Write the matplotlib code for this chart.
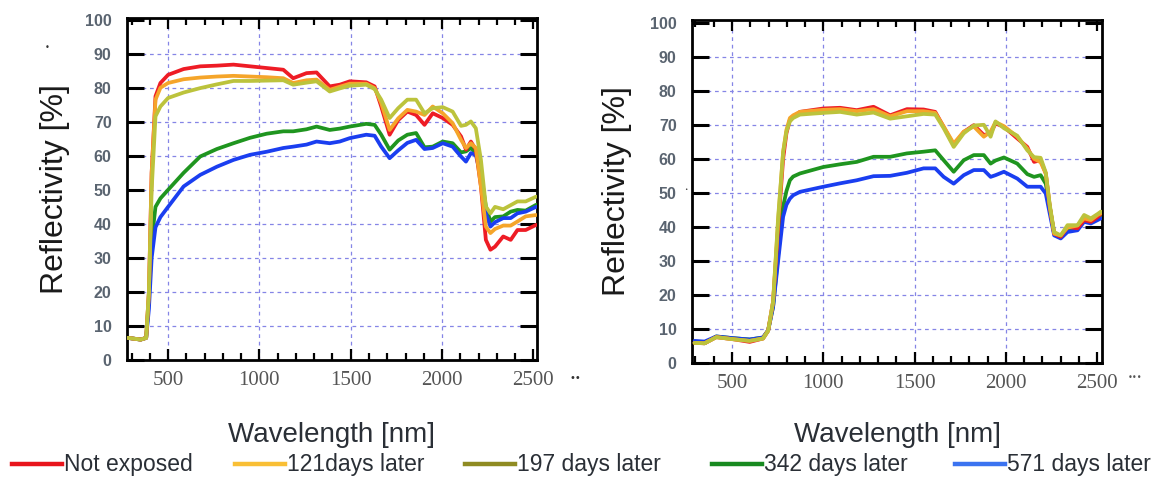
import matplotlib
matplotlib.use("Agg")
import matplotlib.pyplot as plt
from matplotlib.lines import Line2D
from matplotlib.ticker import MultipleLocator

# series names / colours
labels = ["Not exposed", "121days later", "197 days later", "342 days later", "571 days later"]
line_colors = ["#ee1c25", "#f5a52a", "#bcc33c", "#1f951f", "#1a3ef0"]
legend_colors = ["#e8141c", "#f9bf35", "#8f8b22", "#188a20", "#3b73f0"]

# left panel
wl_left = [280, 350, 380, 395, 410, 431, 458, 500, 585, 676, 767, 858, 949, 1040, 1131, 1185,
           1258, 1313, 1385, 1440, 1495, 1585, 1631, 1667, 1713, 1760, 1810, 1858, 1904, 1949,
           2004, 2058, 2104, 2131, 2158, 2185, 2213, 2240, 2265, 2290, 2335, 2376, 2413, 2458, 2515]
left_red = [6.5, 6, 6.5, 20, 55, 77.5, 81.4, 83.8, 85.5, 86.3, 86.5, 86.8, 86.3, 85.8, 85.3, 82.8,
            84.3, 84.5, 80.4, 80.9, 81.9, 81.6, 80.4, 74.5, 66.2, 70.5, 73, 72, 69.1, 72.5,
            71.1, 69.1, 65.7, 61.8, 64.2, 61.8, 51, 35.3, 32.4, 33.3, 36.3, 35.3, 38.2, 38.2, 39.7]
left_121 = [6.5, 6, 6.5, 20, 55, 76.5, 80, 81.4, 82.5, 83, 83.3, 83.5, 83.3, 83.1, 82.8, 81.4,
            82.2, 82.4, 79.4, 80.3, 81.2, 81.2, 79.9, 75.5, 67.6, 71, 73.5, 73, 72, 74.5,
            72.5, 69.6, 64.7, 62.3, 63.7, 62.3, 51, 39.2, 37.3, 38.5, 39.5, 39.5, 40.7, 42.2, 42.6]
left_197 = [6.5, 6, 6.5, 20, 50, 71.6, 74.5, 77, 78.6, 79.9, 81, 82, 82, 82.1, 82.2, 80.9,
            81.5, 81.9, 78.9, 79.8, 80.6, 80.9, 79.6, 76.5, 71.1, 74, 76.5, 76.5, 72.5, 74,
            74.3, 73, 68.8, 69.1, 70.1, 68.1, 58.8, 45.1, 43.1, 45, 44.3, 45.5, 46.6, 46.6, 48]
left_342 = [6.5, 6, 6.5, 18, 35, 45, 47.5, 50, 55, 59.8, 62, 63.7, 65.3, 66.5, 67.2, 67.2,
            67.8, 68.6, 67.6, 68, 68.6, 69.4, 69.1, 66.2, 61.8, 64.5, 66.2, 66.7, 62.5, 62.7,
            64.2, 63.7, 61, 61.3, 62.3, 60.8, 54.9, 45.1, 40.7, 42, 42.2, 43.6, 44.1, 43.9, 45.6]
left_571 = [6.5, 6, 6.5, 15, 30, 39, 42, 45, 51, 54.4, 56.8, 58.8, 60.3, 61.2, 62.3, 62.7,
            63.3, 64.2, 63.7, 64.2, 65.2, 66.2, 65.9, 62.7, 59.3, 61.6, 63.8, 64.7, 62, 62.3,
            63.7, 62.7, 59.8, 58.3, 60.8, 60.3, 53.9, 43.1, 39.2, 40.5, 41.7, 41.7, 43.1, 43.6, 45]

# right panel
wl_right = [295, 350, 414, 505, 597, 670, 698, 725, 753, 780, 798, 817, 835, 872, 1000, 1092,
            1183, 1275, 1366, 1458, 1549, 1613, 1659, 1714, 1769, 1824, 1879, 1916, 1943, 1989,
            2062, 2117, 2154, 2190, 2218, 2240, 2264, 2300, 2337, 2392, 2428, 2465, 2502, 2520]
right_red = [5.9, 5.8, 7.6, 7, 6.2, 7.2, 9.5, 18, 40, 60, 67.5, 71.5, 72.4, 73.8, 74.8, 75,
             74.3, 75.3, 72.8, 74.6, 74.5, 73.8, 69.4, 64, 67.9, 69.9, 67, 67.5, 70.4, 69.4,
             66, 63.5, 59.1, 59.6, 55.7, 46, 38, 37.1, 40, 39.6, 42, 41.5, 42.9, 43.9]
right_121 = [5.9, 5.8, 7.6, 7, 6.5, 7.2, 9.5, 18, 42, 62, 68.5, 72, 72.8, 73.8, 74.4, 74.6,
             74, 74.6, 72.5, 74, 74, 73.5, 69.5, 64.5, 68, 69.5, 66.5, 68, 70.8, 69.6,
             66.5, 63, 60, 59, 55.7, 46, 38, 37.5, 39.8, 40.4, 42.5, 42, 43.5, 44]
right_197 = [5.9, 5.8, 7.6, 7, 6.5, 7.2, 9.5, 18, 43, 62, 68, 71, 72, 73, 73.5, 73.8,
             73, 73.6, 71.8, 72.5, 73.2, 73, 69, 63.5, 67.5, 69.8, 70, 66.5, 71, 69,
             66.8, 62.5, 60.5, 60.3, 56, 46.5, 38.5, 37.5, 40.5, 40.5, 43.5, 42.5, 43.8, 44.5]
right_342 = [6, 5.8, 7.8, 7.3, 6.9, 7.5, 9.6, 16.5, 32, 46, 50.5, 53.7, 54.8, 55.7, 57.6, 58.4,
             59.1, 60.6, 60.6, 61.6, 62.1, 62.5, 59.6, 56.2, 59.6, 61.1, 61.1, 58.6, 59.5, 60.4,
             58.6, 55.5, 54.7, 55.2, 52.7, 45.9, 38, 36.9, 39, 40, 42, 42, 42.5, 42.9]
right_571 = [6.5, 6.3, 7.8, 7.3, 6.9, 7.5, 9.6, 16.5, 30.2, 43, 46.5, 48.3, 49.3, 50.3, 51.8, 52.8,
             53.7, 54.9, 55, 55.9, 57.2, 57.2, 54.7, 52.7, 55.2, 56.7, 56.7, 54.7, 55.2, 56.2,
             54.2, 51.8, 51.8, 51.8, 49.8, 43.9, 37.5, 36.6, 38.5, 39, 41.5, 41, 42, 42.5]

panels = [
    (wl_left, [left_red, left_121, left_197, left_342, left_571]),
    (wl_right, [right_red, right_121, right_197, right_342, right_571]),
]

W, H = 1164, 478
fig = plt.figure(figsize=(W / 100, H / 100), dpi=100)

# axes boxes in pixels: left, top, right, bottom
boxes = [(127, 18, 537, 360), (692, 20, 1102, 363)]
xlims = [(275, 2520), (281, 2526)]
ylims = [(0, 100.5), (0, 100.8)]
ylabel_x = [55, 617]

draw_order = [3, 4, 0, 1, 2]

for k, (wl, series) in enumerate(panels):
    l, t, r, b = boxes[k]
    ax = fig.add_axes([l / W, 1 - b / H, (r - l) / W, (b - t) / H])
    for i in draw_order:
        ax.plot(wl, series[i], color=line_colors[i], lw=2.7, solid_joinstyle="round",
                solid_capstyle="round", zorder=3)
    ax.set_xlim(*xlims[k])
    ax.set_ylim(*ylims[k])
    ax.set_xticks([500, 1000, 1500, 2000, 2500])
    ax.xaxis.set_minor_locator(MultipleLocator(100))
    ax.set_yticks(range(0, 101, 10))
    ax.grid(True, which="major", color="#8585e6", linestyle=(0, (3, 3)), lw=0.9, zorder=1)
    ax.tick_params(axis="x", which="major", direction="in", top=True, length=8, width=1.6,
                   pad=8, labelsize=15, labelcolor="#555555")
    ax.tick_params(axis="x", which="minor", direction="in", top=True, length=5, width=1.6)
    ax.tick_params(axis="y", which="major", direction="in", right=True, length=12, width=2.2,
                   pad=11, labelsize=11.5, labelcolor="#5a6470")
    for lab in ax.get_xticklabels():
        lab.set_fontfamily("Liberation Serif")
    for lab in ax.get_yticklabels():
        lab.set_fontfamily("Liberation Sans")
        lab.set_fontweight("bold")
    for sp in ax.spines.values():
        sp.set_linewidth(2)
    # gridlines only at interior ticks
    for gl, v in zip(ax.get_xgridlines(), ax.get_xticks()):
        if v >= 2500:
            gl.set_visible(False)
    for gl, v in zip(ax.get_ygridlines(), ax.get_yticks()):
        if v == 0 or v == 100:
            gl.set_visible(False)

    fig.text(ylabel_x[k] / W, 1 - ((t + b) / 2) / H, "Reflectivity [%]", rotation=90,
             ha="center", va="center", fontsize=23, family="Liberation Sans", color="#1a1a1a")
    fig.text(((l + r) / 2) / W, 1 - 435 / H, "Wavelength [nm]", ha="center", va="center",
             fontsize=20, family="Liberation Sans", color="#2a2f36")

# stray dots from the scan
fig.text(575 / W, 1 - 378 / H, "\u2022\u2022", fontsize=7, color="#333333", ha="center", va="center")
fig.text(1135 / W, 1 - 378 / H, "\u2022\u2022\u2022", fontsize=6, color="#555555", ha="center", va="center")
fig.text(47 / W, 1 - 47 / H, "\u2022", fontsize=6, color="#333333", ha="center", va="center")
fig.text(686 / W, 1 - 190 / H, "\u2022", fontsize=4, color="#333333", ha="center", va="center")

# legend drawn by hand along the bottom
leg_x = [12, 235, 465, 712, 955]
leg_y = 1 - 464 / H
for i, x0 in enumerate(leg_x):
    fig.add_artist(Line2D([x0 / W, (x0 + 50) / W], [leg_y, leg_y], color=legend_colors[i],
                          lw=3.2, transform=fig.transFigure))
    fig.text((x0 + 52) / W, leg_y, labels[i], ha="left", va="center", fontsize=16.5,
             family="Liberation Sans", color="#2a2f36")

fig.savefig("out.png", dpi=100)
